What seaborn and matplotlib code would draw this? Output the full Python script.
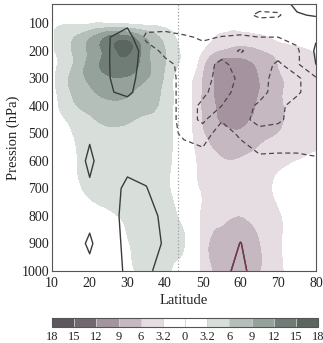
import numpy as np
import matplotlib
matplotlib.use("Agg")
import matplotlib.pyplot as plt
import matplotlib.tri as mtri
from matplotlib.colors import ListedColormap, BoundaryNorm
import seaborn as sns

# grid
lats = [10, 15, 20, 25, 30, 35, 40, 45, 50, 55, 60, 65, 70, 75, 80]
pressures = [30, 70, 100, 150, 200, 250, 300, 350, 400, 450, 500, 600, 700, 800, 900, 1000]

# shaded field (green > 0, purple < 0)
fill_field = [
    [0.0, 0.0, 0.0, 0.0, 0.0, 0.0, 0.0, 0.0, 0.0, 0.0, 0.0, 0.0, 0.0, 0.0, 0.0],
    [0.5, 1.0, 1.0, 1.5, 1.5, 1.0, 0.5, 0.0, -0.5, -1.0, -1.0, -1.0, -0.5, -0.5, -0.5],
    [2.5, 3.0, 3.0, 3.2, 3.0, 2.5, 2.0, 0.5, -1.5, -2.5, -2.5, -2.3, -2.0, -1.5, -1.0],
    [2.8, 5.5, 8.5, 12.5, 13.0, 8.5, 5.0, 1.5, -2.0, -3.5, -4.0, -3.6, -2.8, -2.0, -1.5],
    [2.8, 5.8, 9.5, 13.5, 15.5, 10.0, 6.0, 2.0, -3.4, -6.5, -7.5, -6.5, -5.0, -4.0, -3.0],
    [2.5, 5.5, 10.0, 13.5, 14.0, 10.0, 6.0, 1.5, -5.5, -10.5, -10.0, -8.5, -6.0, -4.5, -3.5],
    [2.5, 6.5, 9.5, 11.5, 11.5, 9.2, 5.5, -0.5, -6.3, -10.5, -10.5, -9.0, -6.5, -5.0, -3.8],
    [2.3, 6.0, 8.5, 10.0, 9.5, 7.5, 5.2, -0.5, -6.5, -10.5, -11.0, -9.0, -6.5, -5.0, -4.0],
    [2.0, 5.2, 7.0, 8.0, 8.0, 6.8, 5.0, -0.5, -6.5, -10.0, -11.0, -8.5, -6.5, -5.0, -4.0],
    [1.5, 3.8, 5.5, 6.8, 6.5, 5.5, 4.8, -0.5, -6.3, -9.5, -10.0, -8.0, -6.5, -5.0, -4.0],
    [1.0, 3.0, 4.5, 5.0, 5.0, 4.8, 4.6, -0.5, -5.8, -8.0, -8.5, -7.0, -6.0, -4.5, -4.0],
    [0.5, 2.5, 4.2, 4.5, 4.5, 4.5, 4.5, -0.5, -4.2, -5.8, -5.8, -5.0, -4.0, -3.2, -2.5],
    [0.0, 2.0, 3.8, 4.5, 4.5, 4.5, 4.0, -0.5, -3.5, -4.5, -5.0, -4.2, -2.8, -1.5, -0.5],
    [0.0, 1.0, 2.0, 2.8, 3.6, 4.5, 4.5, 1.5, -4.0, -5.5, -6.0, -5.0, -3.6, -1.5, -0.5],
    [0.0, 0.5, 1.0, 2.0, 3.0, 4.5, 4.5, 3.5, -4.5, -7.0, -8.0, -6.2, -3.8, -1.5, -0.5],
    [0.0, 0.0, 0.5, 1.5, 2.5, 4.0, 4.0, 0.5, -4.0, -7.0, -8.0, -6.2, -4.0, -1.5, -0.5],
]

# contoured field (solid > 0, dashed < 0)
line_field = [
    [0, 0, 0, 0, 0, 0, 0, 0, 0, 0, 0, 0, 0, 1.5, 1.5],
    [0, 0, 0, 0, 0, 0, 0, 0, 0, 0, 0, -1.5, -1.3, 0.8, 1.2],
    [0, 0, 0, 0.3, 0.5, 0, -0.3, 0, 0, 0, 0, 0, 0, 0, 0],
    [0, 0, 0, 0.9, 2.0, -1.5, -1.5, -1.2, -0.8, -1.05, -1.2, -1.0, -1.0, -0.5, 0.8],
    [0, 0, 0, 0.9, 2.5, 0, -1.5, -1.5, -1.5, -1.5, -2.1, -1.5, -1.5, -1.3, 1.3],
    [0, 0, 0, 0.9, 2.5, -0.3, -0.5, -1.5, -1.5, -2.3, -1.5, -1.5, -2.2, -1.3, 1.0],
    [0, 0, 0, 0.9, 2.0, -0.3, -0.3, -1.5, -1.5, -2.5, -1.8, -1.5, -2.5, -2.2, -1.2],
    [0, 0, 0, 0.8, 1.5, -0.3, -0.3, -1.5, -1.8, -2.5, -1.5, -1.6, -2.5, -2.2, -1.2],
    [0, 0, 0, 0, 0, -0.3, -0.3, -1.5, -2.2, -2.0, -1.5, -2.2, -2.3, -1.5, -1.2],
    [0, 0, 0, 0, 0, 0, -0.3, -1.5, -2.2, -1.1, -1.6, -2.4, -2.2, -1.5, -1.3],
    [0, 0, 0.8, 0, 0, 0, -0.3, -1.3, -1.5, -0.5, -1.2, -1.6, -1.5, -1.5, -1.5],
    [0, 0, 1.3, 0, 0.3, 0, 0, 0, -0.5, -0.3, -0.3, -0.8, -0.8, -0.8, -0.9],
    [0, 0, 0.8, 0, 1.5, 1.1, -0.5, 0, 0, 0, 0, 0, 0, 0, 0],
    [0, 0, 0.5, 0, 1.8, 1.8, 0.5, 0, 0, 0, 0, 0, 0, 0, 0],
    [0, 0, 1.3, -0.5, 1.8, 1.8, 0.8, 0, 0, 0, 1.05, 0, 0, 0, 0],
    [0, 0, 0.5, -0.5, 1.5, 1.5, 0, 0, 0, 0.5, 1.5, 0, 0, 0, 0],
]

levels = [-18, -15, -12, -9, -6, -3.2, 0, 3.2, 6, 9, 12, 15, 18]
level_labels = ["18", "15", "12", "9", "6", "3.2", "0", "3.2", "6", "9", "12", "15", "18"]
boundary_lat = 43.4

colors = ["#5d575d", "#716770", "#a5949f", "#c6b8c1", "#e6dde2", "#ffffff",
          "#ffffff", "#d8dfdb", "#b5bfba", "#95a29b", "#6f7d76", "#5b665f"]

sns.set_theme(style="ticks")
plt.rcParams["font.family"] = ["Liberation Serif", "DejaVu Serif"]

lat = np.array(lats, dtype=float)
pres = np.array(pressures, dtype=float)
F = np.array(fill_field)
L = np.array(line_field)

cmap = ListedColormap(colors)
norm = BoundaryNorm(levels, cmap.N)

# smooth the shading with matplotlib's triangulation refiner
X, Y = np.meshgrid(lat, pres)
tri = mtri.Triangulation(X.ravel(), Y.ravel() / 10.0)
tri_fine, F_fine = mtri.UniformTriRefiner(tri).refine_field(F.ravel(), subdiv=3)
F_fine = np.clip(F_fine, -17.9, 17.9)
tri_plot = mtri.Triangulation(tri_fine.x, tri_fine.y * 10.0, tri_fine.triangles)

fig = plt.figure(figsize=(3.23, 3.43), dpi=100)
ax = fig.add_axes([0.161, 0.210, 0.817, 0.778])
cax = fig.add_axes([0.161, 0.047, 0.824, 0.026])

cf = ax.tricontourf(tri_plot, F_fine, levels=levels, cmap=cmap, norm=norm)

dash = (0, (4, 2.5))
ax.contour(lat, pres, L, levels=[-2, -1], colors="#4e454c",
           linestyles=[dash, dash], linewidths=0.9)
ax.contour(lat, pres, L, levels=[1], colors="#3a3c3b", linewidths=1.0)
# low-level loop drawn in maroon
ax.contour(lat[8:13], pres[13:], L[13:, 8:13], levels=[1],
           colors="#7a3848", linewidths=1.0)

ax.axvline(boundary_lat, color="#a0a0a0", ls=":", lw=0.9)

ax.set_xlim(10, 80)
ax.set_ylim(1000, 30)
ax.set_xticks(range(10, 81, 10))
ax.set_yticks(range(100, 1001, 100))
ax.tick_params(direction="in", top=True, right=True, length=3, width=0.7,
               labelsize=10, colors="#333333", labelcolor="#222222")
ax.tick_params(axis="x", pad=4)
ax.tick_params(axis="y", pad=2)
for s in ax.spines.values():
    s.set_color("#555555")
    s.set_linewidth(0.8)
ax.set_xlabel("Latitude", fontsize=10.5, labelpad=3, color="#222222")
ax.set_ylabel("Pression (hPa)", fontsize=10.5, labelpad=1, color="#222222")

cb = fig.colorbar(cf, cax=cax, orientation="horizontal", ticks=levels, drawedges=True)
cb.set_ticklabels(level_labels)
cb.outline.set_edgecolor("#555555")
cb.outline.set_linewidth(0.8)
cb.dividers.set_color("#d0d0d0")
cb.dividers.set_linewidth(0.6)
cax.tick_params(length=0, labelsize=9, pad=3, labelcolor="#222222")

fig.savefig("out.png", dpi=100)
